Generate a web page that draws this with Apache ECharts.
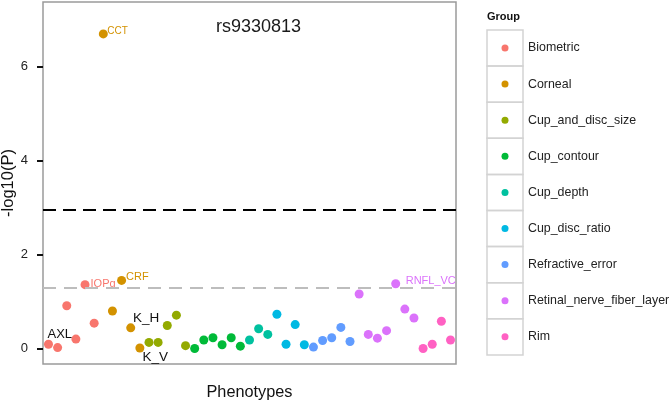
<!DOCTYPE html>
<html>
<head>
<meta charset="utf-8">
<script src="https://cdn.jsdelivr.net/npm/echarts@6/dist/echarts.min.js"></script>
<style>
html,body{margin:0;padding:0;background:#fff;}
#chart{width:671px;height:404px;}
</style>
</head>
<body>
<div id="chart"></div>
<script>
// ---- Data ----
const groups = ["Biometric","Corneal","Cup_and_disc_size","Cup_contour","Cup_depth","Cup_disc_ratio","Refractive_error","Retinal_nerve_fiber_layer","Rim"];
const groupColors = ["#F8766D","#D39200","#93AA00","#00BA38","#00C19F","#00B9E3","#619CFF","#DB72FB","#FF61C3"];
// group index of each phenotype, in plotting order
const phenoGroup = [0,0,0,0,0,0, 1,1,1,1,1, 2,2,2,2,2, 3,3,3,3,3,3, 4,4,4, 5,5,5,5, 6,6,6,6,6, 7,7,7,7,7,7,7, 8,8,8,8];
// -log10(P) of each phenotype
const logP = [0.09,0.02,0.91,0.20,1.36,0.54, 6.70,0.80,1.45,0.44,0.01, 0.13,0.13,0.49,0.71,0.06, 0.00,0.18,0.23,0.08,0.23,0.05, 0.18,0.42,0.30, 0.73,0.09,0.51,0.08, 0.03,0.17,0.23,0.45,0.15, 1.16,0.30,0.22,0.38,1.38,0.84,0.65, 0.00,0.09,0.58,0.18];
// text labels of named phenotypes (index -> name)
const pointLabels = {0:"AXL",4:"IOPg",6:"CCT",8:"CRF",9:"K_H",10:"K_V",38:"RNFL_VC"};
const bonferroniLine = 2.95;
const nominalLine = 1.301;
const yTicks = [0,2,4,6];
const snpTitle = "rs9330813";

// ---- Label styles (offset of text left/center from point centre) ----
const labelStyle = {
  "AXL":    {dx:-1, dy:-10, size:13, black:true},
  "IOPg":   {dx:5.5,dy:-1,  size:11},
  "CCT":    {dx:4,  dy:-3,  size:10},
  "CRF":    {dx:4.5,dy:-3,  size:11},
  "K_H":    {dx:2.3,dy:-10, size:13.5, black:true},
  "K_V":    {dx:2.7,dy:9.4, size:13.5, black:true},
  "RNFL_VC":{dx:10, dy:-3,  size:11}
};
const SYM = 9;
const FONT = "Liberation Sans, Arial, Helvetica, sans-serif";

const series = groups.map((g, gi) => {
  const data = [];
  logP.forEach((v, i) => {
    if (phenoGroup[i] !== gi) return;
    const item = {value: [i + 1, v]};
    const name = pointLabels[i];
    if (name) {
      const st = labelStyle[name];
      item.label = {
        show: true,
        formatter: name,
        position: [st.dx + SYM / 2, st.dy + SYM / 2],
        align: 'left',
        verticalAlign: 'middle',
        fontSize: st.size,
        fontFamily: FONT,
        color: st.black ? '#111' : groupColors[gi]
      };
    }
    data.push(item);
  });
  const s = {
    name: g,
    type: 'scatter',
    symbol: 'circle',
    symbolSize: SYM,
    itemStyle: {color: groupColors[gi], opacity: 1},
    emphasis: {disabled: true},
    data: data,
    z: 3
  };
  if (gi === 0) {
    s.markLine = {
      silent: true,
      symbol: 'none',
      label: {show: false},
      animation: false,
      data: [
        {yAxis: bonferroniLine, lineStyle: {color: '#000', width: 2.2, type: [13, 7]}},
        {yAxis: nominalLine, lineStyle: {color: '#bdbdbd', width: 2, type: [13, 8]}}
      ]
    };
  }
  return s;
});

const chart = echarts.init(document.getElementById('chart'), null, {renderer: 'canvas'});
chart.setOption({
  animation: false,
  backgroundColor: '#fff',
  textStyle: {fontFamily: FONT},
  title: [
    {text: snpTitle, left: 216, top: 18, padding: 0, textStyle: {fontSize: 18, fontWeight: 'normal', color: '#1a1a1a', fontFamily: FONT}},
    {text: 'Group', left: 487, top: 11, padding: 0, textStyle: {fontSize: 11, fontWeight: 'bold', color: '#111', fontFamily: FONT}}
  ],
  grid: {left: 43, right: 215, top: 2, bottom: 40, containLabel: false, outerBoundsMode: 'none', show: true, borderColor: '#9a9a9a', borderWidth: 1.5, backgroundColor: 'transparent'},
  xAxis: {
    type: 'value', min: 0.4, max: 45.6,
    name: 'Phenotypes', nameLocation: 'middle', nameGap: 21, nameMoveOverlap: false,
    nameTextStyle: {fontSize: 16.3, color: '#111', fontFamily: FONT},
    axisLine: {show: false}, axisTick: {show: false}, axisLabel: {show: false}, splitLine: {show: false}
  },
  yAxis: {
    type: 'value', min: -0.33, max: 7.38,
    name: '-log10(P)', nameLocation: 'middle', nameGap: 26, nameRotate: 90, nameMoveOverlap: false,
    nameTextStyle: {fontSize: 16.5, color: '#111', fontFamily: FONT},
    axisLine: {show: false},
    axisTick: {show: true, customValues: yTicks, length: 6, lineStyle: {color: '#111', width: 2}},
    axisLabel: {show: true, customValues: yTicks, margin: 15, fontSize: 13, color: '#222', fontFamily: FONT},
    splitLine: {show: false}
  },
  legend: {
    orient: 'vertical',
    left: 501.5, top: 40,
    padding: 0,
    itemWidth: 7, itemHeight: 7,
    itemGap: 20.1,
    icon: 'circle',
    selectedMode: false,
    data: groups,
    textStyle: {fontSize: 12.4, color: '#222', lineHeight: 16, padding: [0, 0, 0, 14.5], fontFamily: FONT}
  },
  graphic: groups.map((g, i) => ({
    type: 'rect',
    shape: {x: 487, y: 30 + i * 36.1, width: 36, height: 36.1},
    style: {fill: 'none', stroke: '#d3d3d3', lineWidth: 1.5},
    silent: true,
    z: -1
  })),
  series: series
});
</script>
</body>
</html>
